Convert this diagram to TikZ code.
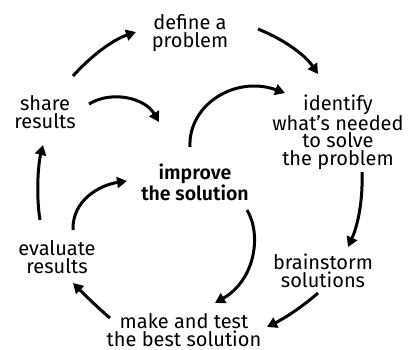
\documentclass[tikz,border=0pt]{standalone}
\usepackage{fontspec}
\setmainfont{Fira Sans}[BoldFont={Fira Sans SemiBold}]
\usetikzlibrary{arrows.meta}
\begin{document}
\begin{tikzpicture}[x=1pt,y=-1pt,
  lbl/.style={align=center,inner sep=0pt,font=\fontsize{20}{17.5}\selectfont},
  blbl/.style={align=center,inner sep=0pt,font=\fontsize{19.5}{17.5}\selectfont\bfseries},
  arr/.style={line width=3pt,-{Triangle[length=10pt,width=11pt]}}]
\useasboundingbox (0,0) rectangle (409,349);
\node[lbl] (define) at (190,33) {define a\\problem};
\node[lbl] (share) at (45,112) {share\\results};
\node[lbl] (identify) at (338,132) {identify\\what’s needed\\to solve\\the problem};
\node[blbl] (improve) at (195,182) {improve\\the solution};
\node[lbl] (evaluate) at (57,257) {evaluate\\results};
\node[lbl] (brainstorm) at (323,271) {brainstorm\\solutions};
\node[lbl] (make) at (184,330) {make and test\\the best solution};
% outer cycle
\draw[arr] ([shift={(28,-36)}]share.center) .. controls (90,57) and (112,40) .. ([shift={(-54,-1)}]define.center);
\draw[arr] ([shift={(68,-4)}]define.center) .. controls (285,40) and (305,55) .. ([shift={(-20,-58)}]identify.center);
\draw[arr] ([shift={(24,40)}]identify.center) .. controls (363,200) and (358,225) .. ([shift={(25,-24)}]brainstorm.center);
\draw[arr] ([shift={(-5,22)}]brainstorm.center) .. controls (302,307) and (285,318) .. ([shift={(83,-3)}]make.center);
\draw[arr] ([shift={(-74,-12)}]make.center) .. controls (97,307) and (85,295) .. ([shift={(16,26)}]evaluate.center);
\draw[arr] ([shift={(-17,-37)}]evaluate.center) .. controls (36,195) and (38,165) .. ([shift={(-2,33)}]share.center);
% inner loops
\draw[arr] ([shift={(16,-27)}]evaluate.center) .. controls (72,200) and (100,185) .. ([shift={(-68,-1)}]improve.center);
\draw[arr] ([shift={(44,-8)}]share.center) .. controls (112,90) and (145,98) .. ([shift={(-36,-60)}]improve.center);
\draw[arr] ([shift={(-5,-35)}]improve.center) .. controls (188,105) and (235,75) .. ([shift={(-53,-39)}]identify.center);
\draw[arr] ([shift={(52,28)}]improve.center) .. controls (262,235) and (255,280) .. ([shift={(31,-27)}]make.center);
\end{tikzpicture}
\end{document}
